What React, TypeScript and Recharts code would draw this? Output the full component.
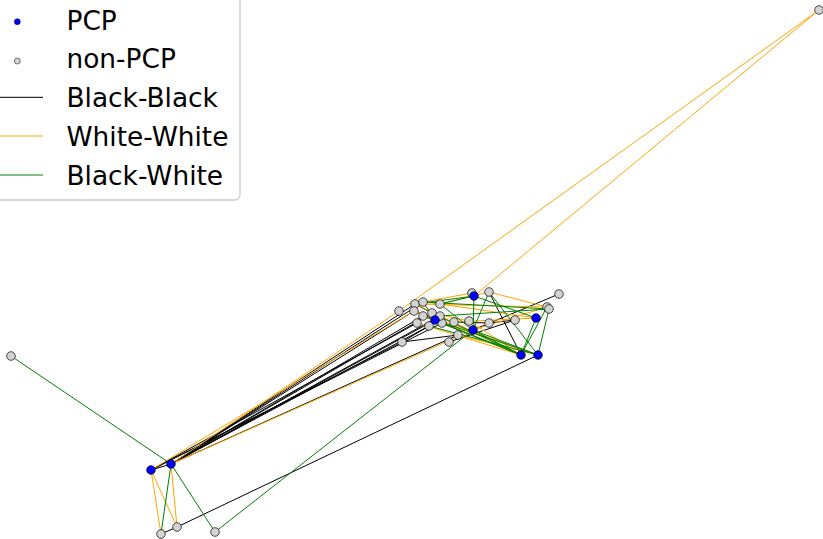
import React from 'react';
import { ScatterChart, Scatter, XAxis, YAxis, ReferenceLine, Legend } from 'recharts';

type GraphNode = { id: string; x: number; y: number };
type Edge = [string, string];

// node positions from the layout (y grows upward)
const pcpNodes: GraphNode[] = [
  { id: 'B1', x: 151, y: 69 },
  { id: 'B2', x: 171, y: 75 },
  { id: 'B3', x: 474, y: 243 },
  { id: 'B4', x: 435, y: 219 },
  { id: 'B5', x: 473, y: 209 },
  { id: 'B6', x: 536, y: 221 },
  { id: 'B7', x: 521, y: 184 },
  { id: 'B8', x: 538, y: 184 },
];

const nonPcpNodes: GraphNode[] = [
  { id: 'G1', x: 11, y: 183 },
  { id: 'G2', x: 161, y: 5 },
  { id: 'G3', x: 177, y: 12 },
  { id: 'G4', x: 215, y: 7 },
  { id: 'G5', x: 819, y: 529 },
  { id: 'G6', x: 472, y: 246 },
  { id: 'G7', x: 489, y: 247 },
  { id: 'G8', x: 559, y: 245 },
  { id: 'G9', x: 547, y: 232 },
  { id: 'G10', x: 549, y: 230 },
  { id: 'G11', x: 515, y: 219 },
  { id: 'G12', x: 489, y: 216 },
  { id: 'G13', x: 469, y: 218 },
  { id: 'G14', x: 454, y: 217 },
  { id: 'G15', x: 442, y: 216 },
  { id: 'G16', x: 440, y: 235 },
  { id: 'G17', x: 399, y: 228 },
  { id: 'G18', x: 415, y: 235 },
  { id: 'G19', x: 423, y: 237 },
  { id: 'G20', x: 414, y: 228 },
  { id: 'G21', x: 423, y: 223 },
  { id: 'G22', x: 432, y: 226 },
  { id: 'G23', x: 440, y: 223 },
  { id: 'G24', x: 429, y: 213 },
  { id: 'G25', x: 417, y: 216 },
  { id: 'G26', x: 402, y: 197 },
  { id: 'G27', x: 449, y: 197 },
  { id: 'G28', x: 458, y: 204 },
];

const blackBlack: Edge[] = [
  ['B1', 'B2'], ['G2', 'G3'], ['G3', 'B8'], ['B2', 'G18'], ['B2', 'G19'], ['B2', 'G20'],
  ['B2', 'G22'], ['B2', 'G21'], ['B2', 'G24'], ['B2', 'G23'], ['B2', 'G28'], ['B2', 'B4'],
  ['B1', 'G25'], ['B1', 'G26'], ['B1', 'G15'], ['G26', 'G28'], ['G26', 'G24'], ['B5', 'G8'],
  ['G12', 'G11'], ['G7', 'B7'], ['G20', 'B4'], ['G18', 'G22'], ['G27', 'G11'], ['G14', 'G12'],
];

const whiteWhite: Edge[] = [
  ['G5', 'G17'], ['G5', 'B3'], ['B1', 'G2'], ['B1', 'G3'], ['B2', 'G3'], ['B2', 'G17'],
  ['B2', 'B5'], ['B1', 'G20'], ['G7', 'G9'], ['G16', 'G7'], ['G16', 'B6'], ['G18', 'B7'],
  ['G20', 'B8'], ['G21', 'B8'], ['G13', 'B7'], ['G15', 'B7'], ['G14', 'B6'], ['G22', 'G13'],
  ['G19', 'G16'], ['G9', 'B5'], ['G6', 'G19'], ['G18', 'G9'], ['G23', 'B7'], ['G25', 'B7'],
  ['G28', 'B8'],
];

const blackWhite: Edge[] = [
  ['G1', 'B2'], ['B2', 'G2'], ['B2', 'G4'], ['G4', 'B5'], ['B3', 'B5'], ['B3', 'B6'],
  ['B3', 'G16'], ['G7', 'B5'], ['G7', 'B8'], ['G10', 'B8'], ['G9', 'B7'], ['B6', 'B7'],
  ['B4', 'B7'], ['B4', 'B8'], ['G22', 'B7'], ['G16', 'B5'], ['B5', 'B7'], ['B5', 'B8'],
  ['G10', 'G23'], ['B3', 'G18'], ['G19', 'B4'], ['G21', 'B7'], ['G24', 'B8'], ['G19', 'G10'],
];

const nodeById: Record<string, GraphNode> = {};
[...pcpNodes, ...nonPcpNodes].forEach((n) => (nodeById[n.id] = n));

const edgeGroups = [
  { edges: blackBlack, color: '#000000' },
  { edges: whiteWhite, color: '#ffa500' },
  { edges: blackWhite, color: '#008000' },
];

const FONT = '"DejaVu Sans", sans-serif';

const makeDot = (fill: string) => (props: any) => (
  <circle cx={props.cx} cy={props.cy} r={4.3} fill={fill} stroke="#000000" strokeWidth={0.7} />
);

const renderLegend = () => {
  const textRows = [
    { label: 'PCP', base: 29.5 },
    { label: 'non-PCP', base: 68.3 },
    { label: 'Black-Black', base: 107 },
    { label: 'White-White', base: 145.8 },
    { label: 'Black-White', base: 184.5 },
  ];
  return (
    <svg width={243} height={203} style={{ display: 'block' }}>
      <rect x={-10} y={-10} width={250} height={210} rx={5} fill="#ffffff" fillOpacity={0.8} stroke="#cccccc" strokeWidth={1.3} />
      <circle cx={17.3} cy={21.7} r={3} fill="#0000ff" stroke="#000000" strokeWidth={0.5} />
      <circle cx={17.3} cy={61} r={3} fill="#d3d3d3" stroke="#000000" strokeWidth={0.5} />
      <line x1={-5} x2={43} y1={97.3} y2={97.3} stroke="#000000" strokeWidth={1} />
      <line x1={-5} x2={43} y1={136} y2={136} stroke="#ffa500" strokeWidth={1} />
      <line x1={-5} x2={43} y1={175} y2={175} stroke="#008000" strokeWidth={1} />
      {textRows.map((r) => (
        <text key={r.label} x={66.5} y={r.base} fontFamily={FONT} fontSize={26.4} fill="#000000">
          {r.label}
        </text>
      ))}
    </svg>
  );
};

export default function App() {
  return (
    <div style={{ position: 'absolute', left: 0, top: 0, width: 823, height: 539, background: '#ffffff' }}>
      <ScatterChart width={823} height={539} margin={{ top: 0, right: 0, bottom: 0, left: 0 }}>
        <XAxis type="number" dataKey="x" domain={[0, 823]} hide />
        <YAxis type="number" dataKey="y" domain={[0, 539]} hide />
        {edgeGroups.map((g) =>
          g.edges.map(([a, b]) => (
            <ReferenceLine
              key={`${a}-${b}-${g.color}`}
              segment={[
                { x: nodeById[a].x, y: nodeById[a].y },
                { x: nodeById[b].x, y: nodeById[b].y },
              ]}
              stroke={g.color}
              strokeWidth={1}
            />
          ))
        )}
        <Scatter name="non-PCP" data={nonPcpNodes} shape={makeDot('#d3d3d3')} isAnimationActive={false} />
        <Scatter name="PCP" data={pcpNodes} shape={makeDot('#0000ff')} isAnimationActive={false} />
        <Legend
          layout="horizontal"
          verticalAlign="middle"
          align="center"
          content={renderLegend}
          wrapperStyle={{ left: 0, top: 0, width: 243, height: 203 }}
        />
      </ScatterChart>
    </div>
  );
}
